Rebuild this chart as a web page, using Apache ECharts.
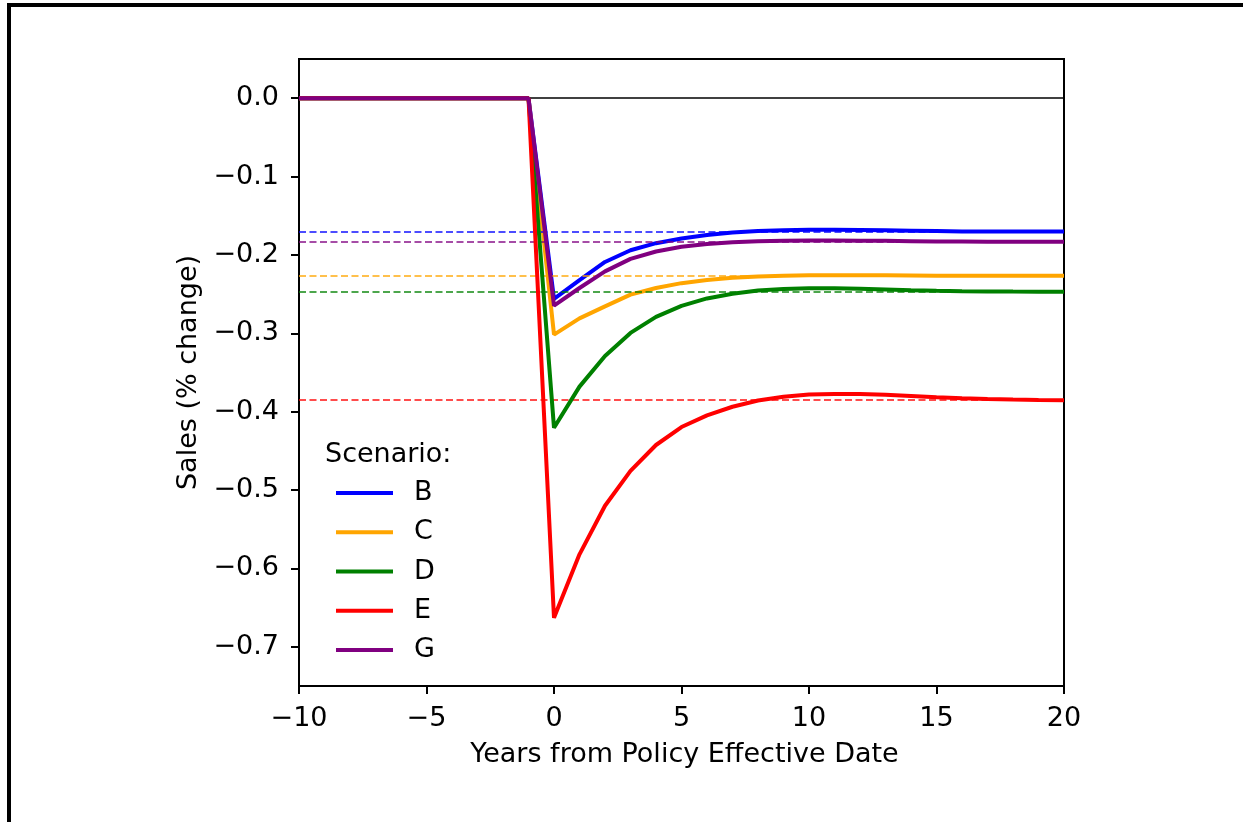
<!DOCTYPE html>
<html>
<head>
<meta charset="utf-8">
<script src="https://cdn.jsdelivr.net/npm/echarts@6/dist/echarts.min.js"></script>
<style>
html,body{margin:0;padding:0;background:#fff;}
#chart{width:1243px;height:822px;}
</style>
</head>
<body>
<div id="chart"></div>
<script>
// ---- data ----
const years = [-10,-9,-8,-7,-6,-5,-4,-3,-2,-1,0,1,2,3,4,5,6,7,8,9,10,11,12,13,14,15,16,17,18,19,20];
const scenarioNames = ['B','C','D','E','G'];
const scenarioColors = ['#0000ff','#ffa500','#008000','#ff0000','#800080'];
const pre = [0,0,0,0,0,0,0,0,0,0];
const salesB = pre.concat([-0.256,-0.232,-0.209,-0.194,-0.185,-0.179,-0.1745,-0.1715,-0.1695,-0.1685,-0.168,-0.168,-0.1682,-0.1685,-0.169,-0.1695,-0.170,-0.170,-0.170,-0.170,-0.170]);
const salesC = pre.concat([-0.3016,-0.281,-0.2656,-0.2507,-0.2422,-0.236,-0.232,-0.2292,-0.2275,-0.2265,-0.226,-0.2258,-0.2258,-0.226,-0.2262,-0.2265,-0.2266,-0.2266,-0.2266,-0.2266,-0.2266]);
const salesD = pre.concat([-0.4205,-0.368,-0.329,-0.2995,-0.279,-0.265,-0.2555,-0.2495,-0.2455,-0.2435,-0.2425,-0.2425,-0.243,-0.244,-0.245,-0.2458,-0.2463,-0.2466,-0.2468,-0.2469,-0.247]);
const salesE = pre.concat([-0.663,-0.582,-0.520,-0.4756,-0.4425,-0.4196,-0.4047,-0.3937,-0.3857,-0.381,-0.378,-0.3773,-0.3775,-0.3785,-0.380,-0.3815,-0.3828,-0.3838,-0.3845,-0.385,-0.3853]);
const salesG = pre.concat([-0.2647,-0.2422,-0.221,-0.205,-0.1956,-0.1895,-0.186,-0.1838,-0.1825,-0.1818,-0.1815,-0.1816,-0.1818,-0.182,-0.1824,-0.1828,-0.183,-0.1833,-0.1833,-0.1833,-0.1833]);
const steadyState = [-0.170,-0.2266,-0.2469,-0.3853,-0.1833];
const yTicks = [0,-0.1,-0.2,-0.3,-0.4,-0.5,-0.6,-0.7];
const xTicks = [-10,-5,0,5,10,15,20];

const allSales = [salesB, salesC, salesD, salesE, salesG];
const FONT = 'DejaVu Sans';
const FS = 27;
const minus = s => String(s).replace('-', '\u2212');

const series = [{
  name: 'zero', type: 'line', data: [], z: 1, silent: true,
  markLine: {
    silent: true, symbol: 'none', label: {show: false}, precision: 6,
    lineStyle: {color: '#000', width: 1.5, type: 'solid'},
    data: [{yAxis: 0}]
  }
}];
scenarioNames.forEach((n, i) => {
  series.push({
    name: n, type: 'line', symbol: 'none', showSymbol: false,
    data: years.map((x, k) => [x, allSales[i][k]]),
    lineStyle: {color: scenarioColors[i], width: 4},
    itemStyle: {color: scenarioColors[i]},
    z: 3 + i,
    markLine: {
      silent: true, symbol: 'none', label: {show: false}, precision: 6,
      lineStyle: {color: scenarioColors[i], width: 1.8, type: [7, 3.5], opacity: 0.7},
      data: [{yAxis: steadyState[i]}]
    }
  });
});

const chart = echarts.init(document.getElementById('chart'), null, {renderer: 'canvas'});
chart.setOption({
  animation: false,
  backgroundColor: '#fff',
  textStyle: {fontFamily: FONT},
  grid: {left: 299, right: 179, top: 59, bottom: 136, show: true, borderColor: '#000', borderWidth: 2, backgroundColor: 'transparent'},
  title: {
    text: 'Scenario:', left: 320, top: 436,
    textStyle: {fontFamily: FONT, fontSize: FS, fontWeight: 'normal', color: '#000'}
  },
  legend: {
    data: scenarioNames, orient: 'vertical', left: 331, top: 473,
    icon: 'rect', itemWidth: 57, itemHeight: 4, itemGap: 9.25,
    textStyle: {fontFamily: FONT, fontSize: FS, color: '#000', lineHeight: 30, padding: [0, 0, 0, 16]},
    selectedMode: false
  },
  xAxis: {
    type: 'value', min: -10, max: 20, interval: 5,
    name: 'Years from Policy Effective Date', nameLocation: 'middle', nameGap: 55,
    nameTextStyle: {fontFamily: FONT, fontSize: FS, color: '#000', padding: [0, 0, 0, 6]},
    axisLine: {show: true, onZero: false, lineStyle: {color: '#000', width: 2}},
    axisTick: {show: true, inside: false, length: 8, lineStyle: {color: '#000', width: 2}, customValues: xTicks},
    axisLabel: {fontFamily: FONT, fontSize: FS, color: '#000', margin: 19, customValues: xTicks, formatter: v => minus(v)},
    splitLine: {show: false}
  },
  yAxis: {
    type: 'value', min: -0.75, max: 0.05,
    name: 'Sales (% change)', nameLocation: 'middle', nameGap: 90, nameRotate: 90,
    nameTextStyle: {fontFamily: FONT, fontSize: FS, color: '#000'},
    axisLine: {show: true, onZero: false, lineStyle: {color: '#000', width: 2}},
    axisTick: {show: true, inside: false, length: 8, lineStyle: {color: '#000', width: 2}, customValues: yTicks},
    axisLabel: {fontFamily: FONT, fontSize: FS, color: '#000', margin: 20, customValues: yTicks, formatter: v => minus(Number(v).toFixed(1))},
    splitLine: {show: false}
  },
  graphic: [
    {type: 'rect', shape: {x: 7, y: 3, width: 1236, height: 4}, style: {fill: '#000'}, silent: true},
    {type: 'rect', shape: {x: 7, y: 3, width: 4, height: 819}, style: {fill: '#000'}, silent: true}
  ],
  series: series
});
</script>
</body>
</html>
